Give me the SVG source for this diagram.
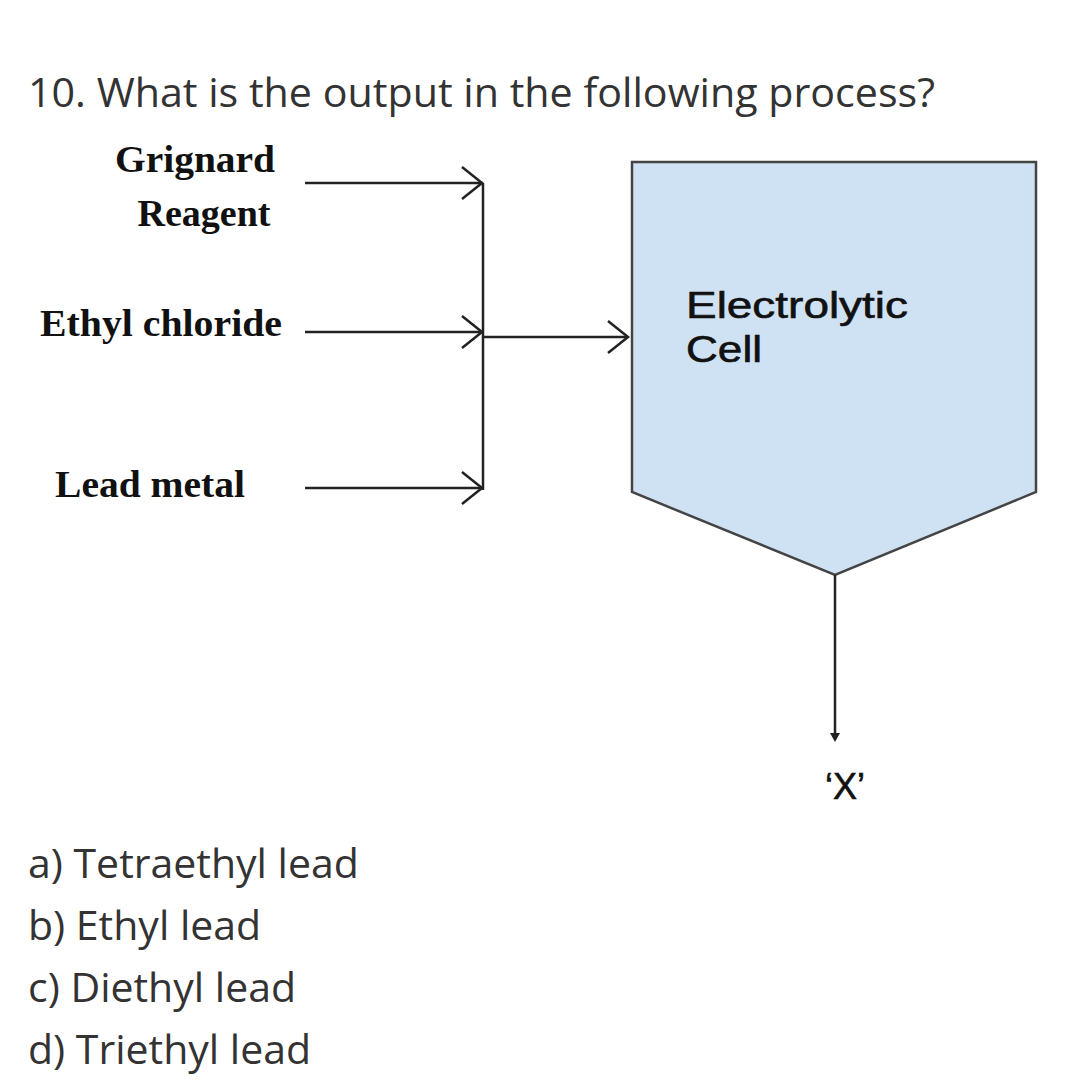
<svg xmlns="http://www.w3.org/2000/svg" width="1080" height="1092" viewBox="0 0 1080 1092">
<style>
.q{font-family:"Open Sans","Noto Sans",sans-serif;font-size:41px;fill:#333}
.s{font-family:"Liberation Serif",serif;font-weight:bold;font-size:38px;fill:#111}
.a{font-family:"Liberation Sans",Arial,sans-serif;font-size:36px;fill:#111;stroke:#111;stroke-width:0.6}
.ln{stroke:#222;stroke-width:2.5;fill:none}
.ah{stroke:#222;stroke-width:2.5;fill:none}
</style>
<rect width="1080" height="1092" fill="#fff"/>
<text class="q" x="28" y="107" textLength="907" lengthAdjust="spacingAndGlyphs">10. What is the output in the following process?</text>
<g id="grignard"><text class="s" x="195" y="172" text-anchor="middle" textLength="160" lengthAdjust="spacingAndGlyphs">Grignard</text><text class="s" x="204" y="226" text-anchor="middle">Reagent</text></g>
<g id="ethyl"><text class="s" x="40" y="336" textLength="242" lengthAdjust="spacingAndGlyphs">Ethyl chloride</text></g>
<g id="lead"><text class="s" x="55" y="497" textLength="190" lengthAdjust="spacingAndGlyphs">Lead metal</text></g>
<g id="cell"><polygon points="632,162 1036,162 1036,492 835,575 632,492" fill="#cfe2f3" stroke="#444" stroke-width="2.5"/>
<text class="a" x="686" y="318" textLength="222" lengthAdjust="spacingAndGlyphs">Electrolytic</text><text class="a" x="686" y="362" textLength="76" lengthAdjust="spacingAndGlyphs">Cell</text></g>
<g id="x"><text class="a" x="845" y="799" text-anchor="middle">‘X’</text></g>
<g id="connectors">
<path class="ln" d="M305 183H483M305 332H483M305 488H483M483 183V490M483 337H628M835 575V735"/>
<path class="ah" d="M462 167L482 183L462 199M462 316L482 332L462 348M462 472L482 488L462 504M608 321L628 337L608 353"/>
<path d="M830 733L840 733L835 742Z" fill="#222"/>
</g>
<g font-family="'Open Sans','Noto Sans',sans-serif" font-size="41" fill="#333">
<text x="28" y="878">a) Tetraethyl lead</text>
<text x="28" y="940">b) Ethyl lead</text>
<text x="28" y="1002">c) Diethyl lead</text>
<text x="28" y="1064">d) Triethyl lead</text>
</g>
</svg>
